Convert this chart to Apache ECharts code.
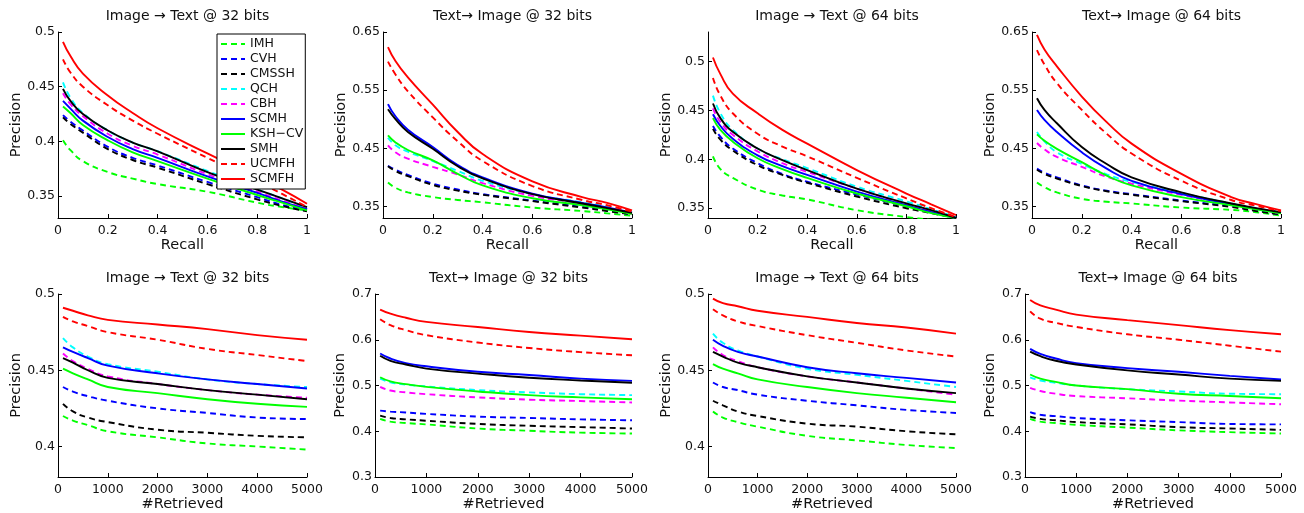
<!DOCTYPE html>
<html style="height: 100%">

<head>
  <meta charset="UTF-8" />
  <title>Precision curves</title>
  <script src="https://cdn.jsdelivr.net/npm/echarts@6/dist/echarts.min.js"></script>
</head>

<body style="height: 100%; margin: 0; background: #fff">
  <div id="main" style="width: 1304px; height: 513px"></div>
  <script>
    // method order used by every panel array below
    const methods = ['IMH', 'CVH', 'CMSSH', 'QCH', 'CBH', 'SCMH', 'KSH−CV', 'SMH', 'UCMFH', 'SCMFH'];
    const colors = ['#00ff00', '#0000ff', '#000000', '#00ffff', '#ff00ff', '#0000ff', '#00ff00', '#000000', '#ff0000', '#ff0000'];
    const dashed = [true, true, true, true, true, false, false, false, true, false];

    const recallX = [0.02, 0.05, 0.1, 0.2, 0.3, 0.4, 0.6, 0.8, 0.9, 1.0];
    const retrievedX = [100, 300, 600, 1000, 2000, 3000, 4000, 5000];

    // precision-recall, Image -> Text @ 32 bits
    const prI2T32 = [
      [0.401, 0.392, 0.382, 0.372, 0.366, 0.361, 0.354, 0.344, 0.340, 0.337],
      [0.424, 0.418, 0.410, 0.395, 0.385, 0.378, 0.363, 0.349, 0.342, 0.337],
      [0.422, 0.416, 0.408, 0.393, 0.383, 0.376, 0.361, 0.347, 0.341, 0.336],
      [0.454, 0.440, 0.426, 0.410, 0.399, 0.391, 0.373, 0.356, 0.348, 0.339],
      [0.444, 0.434, 0.423, 0.407, 0.396, 0.388, 0.370, 0.354, 0.346, 0.338],
      [0.437, 0.430, 0.419, 0.404, 0.393, 0.385, 0.368, 0.353, 0.345, 0.338],
      [0.432, 0.426, 0.415, 0.401, 0.390, 0.382, 0.366, 0.351, 0.344, 0.337],
      [0.448, 0.437, 0.425, 0.410, 0.399, 0.391, 0.372, 0.356, 0.348, 0.340],
      [0.475, 0.463, 0.450, 0.433, 0.419, 0.407, 0.385, 0.363, 0.352, 0.340],
      [0.491, 0.478, 0.462, 0.442, 0.426, 0.412, 0.389, 0.367, 0.356, 0.343]
    ];
    // precision-recall, Text -> Image @ 32 bits
    const prT2I32 = [
      [0.391, 0.382, 0.374, 0.366, 0.361, 0.357, 0.348, 0.342, 0.338, 0.334],
      [0.420, 0.413, 0.404, 0.389, 0.379, 0.371, 0.360, 0.349, 0.343, 0.336],
      [0.419, 0.411, 0.402, 0.387, 0.377, 0.370, 0.359, 0.348, 0.342, 0.336],
      [0.468, 0.455, 0.444, 0.428, 0.411, 0.394, 0.371, 0.357, 0.349, 0.338],
      [0.455, 0.443, 0.432, 0.418, 0.405, 0.390, 0.368, 0.355, 0.347, 0.337],
      [0.526, 0.505, 0.482, 0.452, 0.421, 0.400, 0.372, 0.356, 0.348, 0.339],
      [0.472, 0.460, 0.447, 0.429, 0.406, 0.386, 0.364, 0.352, 0.345, 0.337],
      [0.517, 0.500, 0.478, 0.449, 0.419, 0.398, 0.371, 0.355, 0.347, 0.339],
      [0.599, 0.577, 0.548, 0.503, 0.462, 0.428, 0.385, 0.361, 0.352, 0.341],
      [0.624, 0.600, 0.572, 0.525, 0.478, 0.440, 0.393, 0.366, 0.356, 0.343]
    ];
    // precision-recall, Image -> Text @ 64 bits
    const prI2T64 = [
      [0.403, 0.390, 0.381, 0.369, 0.363, 0.359, 0.348, 0.341, 0.338, 0.335],
      [0.434, 0.423, 0.411, 0.396, 0.385, 0.377, 0.364, 0.352, 0.346, 0.340],
      [0.431, 0.420, 0.409, 0.394, 0.384, 0.376, 0.362, 0.350, 0.345, 0.340],
      [0.465, 0.447, 0.430, 0.411, 0.400, 0.391, 0.372, 0.357, 0.349, 0.341],
      [0.452, 0.438, 0.425, 0.408, 0.396, 0.387, 0.370, 0.354, 0.347, 0.340],
      [0.446, 0.434, 0.421, 0.404, 0.393, 0.384, 0.367, 0.353, 0.346, 0.340],
      [0.442, 0.430, 0.418, 0.401, 0.390, 0.381, 0.365, 0.352, 0.345, 0.340],
      [0.457, 0.442, 0.428, 0.411, 0.399, 0.389, 0.370, 0.355, 0.348, 0.340],
      [0.483, 0.465, 0.447, 0.426, 0.413, 0.403, 0.381, 0.360, 0.350, 0.341],
      [0.504, 0.487, 0.467, 0.447, 0.430, 0.416, 0.389, 0.365, 0.354, 0.343]
    ];
    // precision-recall, Text -> Image @ 64 bits
    const prT2I64 = [
      [0.391, 0.383, 0.374, 0.363, 0.358, 0.355, 0.348, 0.344, 0.340, 0.334],
      [0.415, 0.408, 0.400, 0.386, 0.377, 0.371, 0.360, 0.350, 0.343, 0.336],
      [0.413, 0.406, 0.398, 0.385, 0.376, 0.370, 0.359, 0.349, 0.342, 0.336],
      [0.478, 0.462, 0.443, 0.423, 0.405, 0.392, 0.373, 0.355, 0.347, 0.339],
      [0.459, 0.448, 0.435, 0.418, 0.401, 0.389, 0.370, 0.354, 0.346, 0.338],
      [0.516, 0.499, 0.478, 0.443, 0.415, 0.394, 0.371, 0.354, 0.346, 0.339],
      [0.474, 0.463, 0.449, 0.426, 0.403, 0.386, 0.366, 0.352, 0.345, 0.338],
      [0.536, 0.516, 0.493, 0.452, 0.423, 0.400, 0.374, 0.355, 0.347, 0.340],
      [0.619, 0.594, 0.562, 0.516, 0.475, 0.441, 0.394, 0.361, 0.351, 0.342],
      [0.645, 0.620, 0.591, 0.539, 0.495, 0.458, 0.406, 0.366, 0.354, 0.343]
    ];

    // precision vs #retrieved, Image -> Text @ 32 bits
    const topI2T32 = [
      [0.420, 0.417, 0.414, 0.410, 0.406, 0.402, 0.400, 0.398],
      [0.439, 0.436, 0.433, 0.430, 0.425, 0.422, 0.419, 0.418],
      [0.428, 0.423, 0.419, 0.416, 0.411, 0.409, 0.407, 0.406],
      [0.471, 0.465, 0.459, 0.454, 0.449, 0.444, 0.441, 0.439],
      [0.461, 0.456, 0.451, 0.446, 0.441, 0.437, 0.434, 0.432],
      [0.465, 0.462, 0.458, 0.453, 0.448, 0.444, 0.441, 0.438],
      [0.451, 0.448, 0.444, 0.439, 0.435, 0.431, 0.428, 0.426],
      [0.458, 0.455, 0.450, 0.445, 0.441, 0.437, 0.434, 0.431],
      [0.485, 0.482, 0.479, 0.475, 0.470, 0.464, 0.460, 0.456],
      [0.491, 0.489, 0.486, 0.483, 0.480, 0.477, 0.473, 0.470]
    ];
    // precision vs #retrieved, Text -> Image @ 32 bits
    const topT2I32 = [
      [0.427, 0.421, 0.418, 0.415, 0.406, 0.401, 0.397, 0.395],
      [0.445, 0.443, 0.441, 0.438, 0.432, 0.429, 0.426, 0.424],
      [0.434, 0.429, 0.426, 0.423, 0.416, 0.412, 0.409, 0.406],
      [0.515, 0.507, 0.502, 0.498, 0.490, 0.485, 0.481, 0.479],
      [0.497, 0.489, 0.485, 0.481, 0.474, 0.469, 0.466, 0.463],
      [0.570, 0.559, 0.549, 0.542, 0.530, 0.523, 0.515, 0.510],
      [0.518, 0.509, 0.503, 0.497, 0.487, 0.479, 0.474, 0.470],
      [0.565, 0.554, 0.546, 0.537, 0.526, 0.517, 0.511, 0.506],
      [0.645, 0.632, 0.621, 0.610, 0.594, 0.582, 0.573, 0.566],
      [0.666, 0.657, 0.648, 0.639, 0.628, 0.617, 0.609, 0.601]
    ];
    // precision vs #retrieved, Image -> Text @ 64 bits
    const topI2T64 = [
      [0.423, 0.419, 0.416, 0.413, 0.407, 0.404, 0.401, 0.399],
      [0.442, 0.439, 0.437, 0.434, 0.430, 0.427, 0.424, 0.422],
      [0.430, 0.427, 0.423, 0.420, 0.415, 0.413, 0.410, 0.408],
      [0.474, 0.468, 0.463, 0.459, 0.451, 0.447, 0.443, 0.439],
      [0.465, 0.460, 0.456, 0.452, 0.446, 0.442, 0.438, 0.434],
      [0.470, 0.466, 0.462, 0.459, 0.452, 0.448, 0.445, 0.442],
      [0.454, 0.451, 0.448, 0.444, 0.439, 0.435, 0.432, 0.429],
      [0.462, 0.459, 0.455, 0.452, 0.446, 0.442, 0.438, 0.435],
      [0.490, 0.486, 0.482, 0.479, 0.473, 0.468, 0.463, 0.459],
      [0.497, 0.494, 0.492, 0.489, 0.485, 0.481, 0.478, 0.474]
    ];
    // precision vs #retrieved, Text -> Image @ 64 bits
    const topT2I64 = [
      [0.427, 0.421, 0.418, 0.414, 0.408, 0.402, 0.398, 0.395],
      [0.442, 0.436, 0.433, 0.429, 0.424, 0.420, 0.416, 0.415],
      [0.432, 0.427, 0.424, 0.420, 0.415, 0.409, 0.406, 0.403],
      [0.518, 0.511, 0.506, 0.500, 0.492, 0.487, 0.482, 0.481],
      [0.495, 0.488, 0.482, 0.477, 0.472, 0.467, 0.463, 0.459],
      [0.580, 0.569, 0.559, 0.549, 0.538, 0.530, 0.521, 0.513],
      [0.524, 0.515, 0.508, 0.500, 0.492, 0.482, 0.477, 0.472],
      [0.574, 0.564, 0.554, 0.546, 0.533, 0.524, 0.515, 0.510],
      [0.662, 0.646, 0.637, 0.628, 0.612, 0.600, 0.587, 0.574],
      [0.687, 0.675, 0.666, 0.655, 0.643, 0.632, 0.621, 0.612]
    ];

    const yTicksLow = [0.35, 0.4, 0.45, 0.5];
    const yTicksWide = [0.35, 0.45, 0.55, 0.65];
    const yTicksRetI2T = [0.4, 0.45, 0.5];
    const yTicksRetT2I = [0.3, 0.4, 0.5, 0.6, 0.7];

    const titles = [
      'Image → Text @ 32 bits', 'Text→ Image @ 32 bits', 'Image → Text @ 64 bits', 'Text→ Image @ 64 bits',
      'Image → Text @ 32 bits', 'Text→ Image @ 32 bits', 'Image → Text @ 64 bits', 'Text→ Image @ 64 bits'
    ];

    const panels = [
      { data: prI2T32, xs: recallX, ymin: 0.33, ymax: 0.5, ticks: yTicksLow },
      { data: prT2I32, xs: recallX, ymin: 0.33, ymax: 0.65, ticks: yTicksWide },
      { data: prI2T64, xs: recallX, ymin: 0.34, ymax: 0.53, ticks: yTicksLow },
      { data: prT2I64, xs: recallX, ymin: 0.33, ymax: 0.65, ticks: yTicksWide },
      { data: topI2T32, xs: retrievedX, ymin: 0.38, ymax: 0.5, ticks: yTicksRetI2T },
      { data: topT2I32, xs: retrievedX, ymin: 0.3, ymax: 0.7, ticks: yTicksRetT2I },
      { data: topI2T64, xs: retrievedX, ymin: 0.38, ymax: 0.5, ticks: yTicksRetI2T },
      { data: topT2I64, xs: retrievedX, ymin: 0.3, ymax: 0.7, ticks: yTicksRetT2I }
    ];

    const boxes = [
      { left: 58, top: 32, width: 249, height: 186 },
      { left: 383, top: 32, width: 249, height: 186 },
      { left: 708, top: 32, width: 248, height: 186 },
      { left: 1032, top: 32, width: 249, height: 186 },
      { left: 58, top: 294, width: 249, height: 185 },
      { left: 375, top: 294, width: 257, height: 185 },
      { left: 708, top: 294, width: 248, height: 185 },
      { left: 1025, top: 294, width: 256, height: 185 }
    ];

    const font = "'DejaVu Sans', sans-serif";
    const ink = '#111';

    const chart = echarts.init(document.getElementById('main'));

    const title = [], grid = [], xAxis = [], yAxis = [], series = [];
    panels.forEach(function (p, i) {
      const b = boxes[i];
      const recall = i < 4;
      grid.push(b);
      title.push({
        text: titles[i],
        left: b.left + b.width / 2,
        top: b.top - 28,
        textAlign: 'center',
        textStyle: { fontFamily: font, fontSize: 14, fontWeight: 'normal', color: ink }
      });
      xAxis.push({
        type: 'value',
        gridIndex: i,
        min: 0,
        max: recall ? 1 : 5000,
        interval: recall ? 0.2 : 1000,
        name: recall ? 'Recall' : '#Retrieved',
        nameLocation: 'middle',
        nameGap: 20,
        nameTextStyle: { fontFamily: font, fontSize: 14.5, color: ink },
        axisLine: { lineStyle: { color: '#000', width: 1 } },
        axisTick: { inside: true, length: 4, lineStyle: { color: '#000' } },
        axisLabel: {
          fontFamily: font, fontSize: 12.5, color: ink, margin: 6,
          formatter: function (v) { return String(v); }
        },
        splitLine: { show: false }
      });
      yAxis.push({
        type: 'value',
        gridIndex: i,
        min: p.ymin,
        max: p.ymax,
        name: 'Precision',
        nameLocation: 'middle',
        nameGap: (i === 5 || i === 7) ? 26 : 34,
        nameTextStyle: { fontFamily: font, fontSize: 14.5, color: ink },
        axisLine: { show: true, lineStyle: { color: '#000', width: 1 } },
        axisTick: { show: true, inside: true, length: 4, customValues: p.ticks, lineStyle: { color: '#000' } },
        axisLabel: { fontFamily: font, fontSize: 12.5, color: ink, margin: 3, customValues: p.ticks },
        splitLine: { show: false }
      });
      p.data.forEach(function (vals, k) {
        series.push({
          type: 'line',
          name: methods[k],
          xAxisIndex: i,
          yAxisIndex: i,
          data: p.xs.map(function (x, j) { return [x, vals[j]]; }),
          symbol: 'none',
          smooth: 0.5,
          silent: true,
          lineStyle: { color: colors[k], width: 1.9, type: dashed[k] ? [6, 4] : 'solid' },
          itemStyle: { color: colors[k], opacity: 0 }
        });
      });
    });

    chart.setOption({
      animation: false,
      backgroundColor: '#fff',
      title: title,
      grid: grid,
      xAxis: xAxis,
      yAxis: yAxis,
      legend: {
        data: methods,
        orient: 'vertical',
        left: 217,
        top: 34,
        padding: [3, 2, 3, 3],
        itemWidth: 24,
        itemHeight: 10,
        itemGap: 1,
        selectedMode: false,
        backgroundColor: '#fff',
        borderColor: '#000',
        borderWidth: 1,
        borderRadius: 0,
        itemStyle: { opacity: 0 },
        textStyle: { fontFamily: font, fontSize: 12.5, color: ink, lineHeight: 14 }
      },
      series: series
    });
  </script>
</body>

</html>
